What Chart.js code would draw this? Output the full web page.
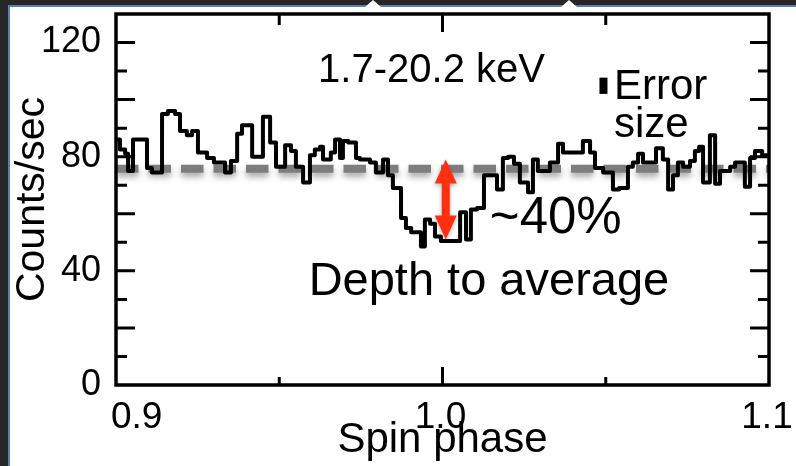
<!DOCTYPE html>
<html>
<head>
<meta charset="utf-8">
<script src="https://cdn.jsdelivr.net/npm/chart.js@4.4.0/dist/chart.umd.min.js"></script>
<style>
  html, body { margin: 0; padding: 0; background: #262626; overflow: hidden; }
  canvas { display: block; }
</style>
</head>
<body>
<canvas id="lightcurve" width="796" height="466"></canvas>
<script>
// Pulse profile around the dip, 1.7-20.2 keV band.
// Left edge of each phase bin; the last bin closes at phaseMax.
const phaseEdges = [
    0.9000, 0.9012, 0.9028, 0.9037, 0.9052, 0.9095, 0.9110, 0.9141, 0.9159, 0.9181,
    0.9196, 0.9217, 0.9233, 0.9251, 0.9279, 0.9300, 0.9334, 0.9352, 0.9371, 0.9386,
    0.9417, 0.9450, 0.9472, 0.9490, 0.9518, 0.9536, 0.9551, 0.9573, 0.9594, 0.9609,
    0.9625, 0.9634, 0.9658, 0.9671, 0.9686, 0.9695, 0.9711, 0.9735, 0.9747, 0.9778,
    0.9796, 0.9818, 0.9833, 0.9848, 0.9873, 0.9888, 0.9904, 0.9934, 0.9946, 0.9962,
    0.9977, 0.9995, 1.0054, 1.0072, 1.0087, 1.0106, 1.0127, 1.0167, 1.0185, 1.0201,
    1.0219, 1.0237, 1.0262, 1.0277, 1.0292, 1.0329, 1.0354, 1.0369, 1.0430, 1.0452,
    1.0467, 1.0492, 1.0522, 1.0541, 1.0568, 1.0583, 1.0599, 1.0614, 1.0654, 1.0675,
    1.0691, 1.0706, 1.0721, 1.0737, 1.0758, 1.0773, 1.0786, 1.0798, 1.0819, 1.0835,
    1.0850, 1.0881, 1.0896, 1.0926, 1.0942, 1.0957, 1.0979
];
// Counts/sec in each bin
const countRates = [
    86, 82.5, 81, 75, 86, 76, 74.5, 95, 96, 95,
    89, 87.5, 89, 81.5, 79.5, 78, 74.5, 78.5, 88, 91,
    80, 94, 85, 76.5, 84, 82, 76.5, 71, 80.5, 82.5,
    83.5, 79, 81.5, 86, 79.5, 85.5, 85, 79.5, 79, 78,
    74.5, 79, 73.5, 69, 58.5, 55, 53.5, 48.5, 58, 56.5,
    52, 50.5, 60.5, 51, 61.5, 62, 73.5, 68.5, 79.5, 80,
    77.5, 71, 67.5, 79, 75, 78, 84.5, 81.5, 85.5, 81.5,
    76, 74.5, 68.5, 69, 76.5, 78, 81, 78, 83, 79,
    68.5, 73.5, 78, 76.5, 78.5, 82, 83.5, 71, 87.5, 70.5,
    75, 76.5, 78, 69.5, 79.5, 82, 80.5
];

const phaseMin = 0.9;
const phaseMax = 1.1;
const rateMin = 0;
const rateMax = 130;
const meanRate = 75.8;

const yLabelTicks = [0, 40, 80, 120];
const yMarkTicks = [10, 20, 30, 40, 50, 60, 70, 80, 90, 100, 110, 120];
const xLabelTicks = [0.9, 1.0, 1.1];
const xMarkTicks = [0.95, 1.0, 1.05];

// depth marker: from the mean level down to the bottom of the dip
const depthPhase = 1.001;
const depthTop = 79;
const depthBottom = 51;

// typical error bar
const errPhase = 1.0493;
const errLow = 102;
const errHigh = 107.7;

const FONT = '"Liberation Sans", Arial, Helvetica, sans-serif';

const histPoints = phaseEdges.map((p, i) => ({ x: p, y: countRates[i] }));
histPoints.push({ x: phaseMax, y: countRates[countRates.length - 1] });

// dark slide behind a white panel
const slidePanel = {
    id: 'slidePanel',
    beforeDraw(chart) {
        const { ctx, width, height } = chart;
        ctx.save();
        ctx.fillStyle = '#262626';
        ctx.fillRect(0, 0, width, height);
        ctx.fillStyle = '#5d7fae';
        ctx.fillRect(8, 5, width - 8, height - 5);
        ctx.fillStyle = '#ffffff';
        ctx.fillRect(10, 7, width - 10, height - 7);
        // little selection handles on the top edge
        [373, 569].forEach(cx => {
            ctx.beginPath();
            ctx.moveTo(cx - 8, 7);
            ctx.lineTo(cx, 0);
            ctx.lineTo(cx + 8, 7);
            ctx.closePath();
            ctx.fill();
        });
        ctx.restore();
    }
};

// soft drop shadow under the mean-level line
const meanShadow = {
    id: 'meanShadow',
    beforeDatasetDraw(chart, args) {
        if (args.index !== 1) return;
        const ctx = chart.ctx;
        ctx.save();
        ctx.shadowColor = 'rgba(0,0,0,0.35)';
        ctx.shadowBlur = 6;
        ctx.shadowOffsetY = 4;
    },
    afterDatasetDraw(chart, args) {
        if (args.index !== 1) return;
        chart.ctx.restore();
    }
};

function drawArrow(ctx, x, yTop, yBot) {
    const head = 24, headHalf = 11, shaftHalf = 4;
    ctx.beginPath();
    ctx.moveTo(x, yTop);
    ctx.lineTo(x + headHalf, yTop + head);
    ctx.lineTo(x + shaftHalf, yTop + head);
    ctx.lineTo(x + shaftHalf, yBot - head);
    ctx.lineTo(x + headHalf, yBot - head);
    ctx.lineTo(x, yBot);
    ctx.lineTo(x - headHalf, yBot - head);
    ctx.lineTo(x - shaftHalf, yBot - head);
    ctx.lineTo(x - shaftHalf, yTop + head);
    ctx.lineTo(x - headHalf, yTop + head);
    ctx.closePath();
    ctx.fill();
}

const decorations = {
    id: 'decorations',
    afterDatasetsDraw(chart) {
        const { ctx, chartArea: a, scales: { x, y } } = chart;
        ctx.save();

        // frame
        ctx.strokeStyle = '#000';
        ctx.lineWidth = 3.5;
        ctx.strokeRect(a.left, a.top, a.right - a.left, a.bottom - a.top);

        // inward tick marks on all four sides
        ctx.lineWidth = 3;
        ctx.beginPath();
        yMarkTicks.forEach(v => {
            const py = y.getPixelForValue(v);
            const len = v % 20 === 0 ? 19 : 11;
            ctx.moveTo(a.left, py); ctx.lineTo(a.left + len, py);
            ctx.moveTo(a.right, py); ctx.lineTo(a.right - len, py);
        });
        xMarkTicks.forEach(v => {
            const px = x.getPixelForValue(v);
            const major = Math.abs(v - 1.0) < 1e-9;
            ctx.moveTo(px, a.bottom); ctx.lineTo(px, a.bottom - (major ? 18 : 8));
            ctx.moveTo(px, a.top); ctx.lineTo(px, a.top + (major ? 18 : 11));
        });
        ctx.stroke();

        // x tick labels
        ctx.fillStyle = '#000';
        ctx.font = '37px ' + FONT;
        ctx.textBaseline = 'alphabetic';
        xLabelTicks.forEach((v, i) => {
            const px = x.getPixelForValue(v);
            const label = v.toFixed(1);
            if (i === 0) {
                ctx.textAlign = 'left';
                ctx.fillText(label, px - 5, a.bottom + 43);
            } else {
                ctx.textAlign = 'center';
                ctx.fillText(label, px - 2, a.bottom + 43);
            }
        });

        // error size marker
        const ex = x.getPixelForValue(errPhase);
        const eTop = y.getPixelForValue(errHigh);
        const eBot = y.getPixelForValue(errLow);
        ctx.fillRect(ex - 4, eTop, 8, eBot - eTop);

        // text notes
        ctx.textAlign = 'left';
        ctx.font = '40px ' + FONT;
        ctx.fillText('1.7-20.2 keV', x.getPixelForValue(0.9619), y.getPixelForValue(106.3));
        ctx.font = '42px ' + FONT;
        ctx.fillText('Error', x.getPixelForValue(1.0525), y.getPixelForValue(100.3));
        ctx.fillText('size', x.getPixelForValue(1.0525), y.getPixelForValue(86.9));
        ctx.font = '51px ' + FONT;
        ctx.fillText('~40%', x.getPixelForValue(1.0145), y.getPixelForValue(53.3));
        ctx.font = '47px ' + FONT;
        ctx.fillText('Depth to average', x.getPixelForValue(0.9590), y.getPixelForValue(31.6));

        // depth arrow
        ctx.shadowColor = 'rgba(0,0,0,0.3)';
        ctx.shadowBlur = 4;
        ctx.shadowOffsetY = 2;
        ctx.fillStyle = 'rgb(255, 48, 16)';
        drawArrow(ctx, x.getPixelForValue(depthPhase), y.getPixelForValue(depthTop), y.getPixelForValue(depthBottom));

        ctx.restore();
    }
};

new Chart(document.getElementById('lightcurve'), {
    type: 'line',
    data: {
        datasets: [
            {
                data: histPoints,
                stepped: true,
                borderColor: '#000',
                borderWidth: 4,
                borderJoinStyle: 'round',
                pointRadius: 0,
                fill: false
            },
            {
                data: [{ x: phaseMin, y: meanRate }, { x: phaseMax, y: meanRate }],
                borderColor: 'rgb(125,125,125)',
                borderWidth: 8,
                borderDash: [22.5, 10],
                borderCapStyle: 'butt',
                pointRadius: 0,
                fill: false
            }
        ]
    },
    options: {
        responsive: false,
        animation: false,
        devicePixelRatio: 1,
        layout: { padding: { top: 14, right: 27, left: 0, bottom: 0 } },
        plugins: {
            legend: { display: false },
            tooltip: { enabled: false }
        },
        scales: {
            x: {
                type: 'linear',
                min: phaseMin,
                max: phaseMax,
                grid: { display: false, drawTicks: false },
                border: { display: false },
                ticks: { display: false },
                title: {
                    display: true,
                    text: 'Spin phase',
                    color: '#000',
                    font: { family: FONT, size: 42 },
                    padding: { top: 0, bottom: 0 }
                },
                afterFit: s => {
                    s.height = 81;
                    s.paddingLeft = 0;
                    s.paddingRight = 0;
                }
            },
            y: {
                min: rateMin,
                max: rateMax,
                afterBuildTicks: s => { s.ticks = yLabelTicks.map(v => ({ value: v })); },
                grid: { display: false, drawTicks: false },
                border: { display: false },
                ticks: {
                    color: '#000',
                    font: { family: FONT, size: 36 },
                    padding: 15
                },
                title: {
                    display: true,
                    text: 'Counts/sec',
                    color: '#000',
                    font: { family: FONT, size: 41 },
                    padding: { top: 8, bottom: 0 }
                },
                afterFit: s => {
                    s.width = 116;
                    s.paddingTop = 0;
                    s.paddingBottom = 0;
                }
            }
        }
    },
    plugins: [slidePanel, meanShadow, decorations]
});
</script>
</body>
</html>
